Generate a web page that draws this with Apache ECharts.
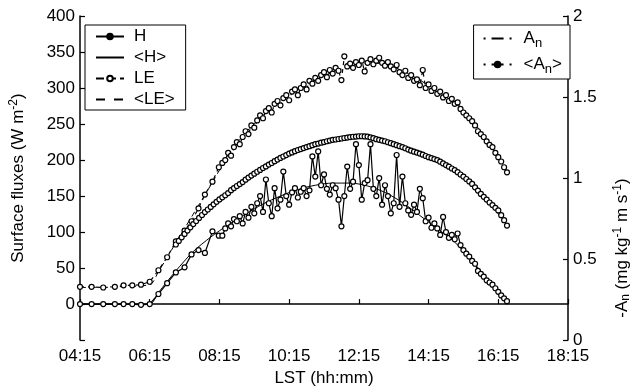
<!DOCTYPE html>
<html><head><meta charset="utf-8">
<script src="https://cdn.jsdelivr.net/npm/echarts@6/dist/echarts.min.js"></script>
<style>html,body{margin:0;padding:0;background:#fff}#c{width:640px;height:392px}</style>
</head><body><div id="c"></div>
<script>
// ---------------- data ----------------
const xTickStart = '04:15';
const earlyTimes = ['04:15','04:35','04:55','05:15','05:30','05:45','06:00','06:15','06:30','06:45','07:00','07:15','07:27','07:39','07:50','08:03','08:14'];
const hEarly  = [0,0,0,0,0,0,-1,0,14,29,44,51,69,75,71,101,95];
const leEarly = [24,24,23,24,26,26,27,31,47,65,87,102,115,133,152,170,190];

const fiveMinTimes = [
'07:00','07:05','07:10','07:15','07:20','07:25','07:30','07:35','07:40','07:45','07:50','07:55',
'08:00','08:05','08:10','08:15','08:20','08:25','08:30','08:35','08:40','08:45','08:50','08:55',
'09:00','09:05','09:10','09:15','09:20','09:25','09:30','09:35','09:40','09:45','09:50','09:55',
'10:00','10:05','10:10','10:15','10:20','10:25','10:30','10:35','10:40','10:45','10:50','10:55',
'11:00','11:05','11:10','11:15','11:20','11:25','11:30','11:35','11:40','11:45','11:50','11:55',
'12:00','12:05','12:10','12:15','12:20','12:25','12:30','12:35','12:40','12:45','12:50','12:55',
'13:00','13:05','13:10','13:15','13:20','13:25','13:30','13:35','13:40','13:45','13:50','13:55',
'14:00','14:05','14:10','14:15','14:20','14:25','14:30','14:35','14:40','14:45','14:50','14:55',
'15:00','15:05','15:10','15:15','15:20','15:25','15:30','15:35','15:40','15:45','15:50','15:55',
'16:00','16:05','16:10','16:15','16:20','16:25','16:30'];
const denseTimes = fiveMinTimes.slice(fiveMinTimes.indexOf('08:20'));

const hDense = [95,105,112,108,118,115,122,112,
128,120,135,126,140,150,128,173,140,122,161,133,
145,184,150,138,155,161,148,156,161,150,158,205,
177,212,165,180,160,152,165,161,145,108,150,191,
160,170,222,193,145,168,172,222,160,150,175,138,
165,150,126,140,207,135,177,140,130,124,138,128,
160,147,115,120,106,112,105,96,121,100,92,96,
90,98,82,75,70,66,60,56,46,42,38,33,
30,27,22,17,12,8,4];
const leDense = [196,200,210,206,218,225,222,232,
240,236,248,245,255,262,258,268,272,266,278,282,
276,286,290,283,295,298,290,300,305,298,310,306,
314,310,318,322,315,325,320,328,324,311,344,330,
334,328,336,332,338,323,335,340,333,338,342,335,
331,336,330,326,332,322,318,324,314,318,310,312,
304,325,300,305,296,300,292,295,287,290,282,285,
278,280,271,266,262,258,254,248,240,236,232,226,
221,218,210,204,198,190,183];

const hMeanTimes = ['04:15','05:15','06:15','06:30','07:00','07:30','08:00','08:30','09:00','09:30','10:00','10:30','11:00','11:30','12:00','12:30','13:00','13:30','14:00','14:30','15:00','15:30','16:00','16:30'];
const hMean  = [0,0,0,16,46,73,93,110,125,139,150,159,165,168,168,164,155,141,123,105,86,60,31,4];
const leMean = [23,24,27,45,85,125,165,206,238,262,281,297,311,322,330,335,333,324,311,296,279,255,222,184];

const anMean = [0.590,0.612,0.634,0.655,0.676,0.696,0.716,0.735,0.754,0.772,0.790,0.806,
0.822,0.838,0.853,0.868,0.881,0.894,0.907,0.925,0.938,0.951,0.963,0.975,
0.990,1.003,1.015,1.027,1.039,1.050,1.062,1.072,1.083,1.093,1.104,1.114,
1.124,1.133,1.142,1.151,1.158,1.166,1.173,1.179,1.185,1.191,1.197,1.203,
1.209,1.213,1.218,1.222,1.227,1.231,1.236,1.238,1.241,1.244,1.247,1.250,
1.253,1.255,1.256,1.258,1.258,1.257,1.256,1.251,1.246,1.240,1.236,1.231,
1.227,1.221,1.215,1.209,1.203,1.197,1.191,1.184,1.176,1.169,1.163,1.157,
1.151,1.144,1.136,1.129,1.123,1.117,1.111,1.101,1.090,1.080,1.070,1.059,
1.049,1.036,1.022,1.009,0.994,0.979,0.964,0.943,0.923,0.902,0.884,0.867,
0.849,0.833,0.816,0.800,0.771,0.740,0.707];
const anTimes = ['07:00','07:30','08:00','08:30','09:00','09:30','10:00','10:30','11:00','11:30','12:00','12:30','13:00','13:30','14:00','14:30','15:00','15:30','16:00','16:30'];
const anVal = [0.590,0.716,0.822,0.907,0.990,1.062,1.124,1.173,1.209,1.236,1.253,1.256,1.227,1.191,1.151,1.111,1.049,0.964,0.849,0.707];

const leftTicks = [-50, 400, 50];
const rightTicks = [0, 2, 0.5];

// ---------------- helpers ----------------
const toMin = s => { const p = s.split(':'); return (+p[0])*60 + (+p[1]); };
const T0 = toMin(xTickStart);
const fmt = m => { const t = m + T0; const h = Math.floor(t/60), mm = t%60; return (h<10?'0':'')+h+':'+(mm<10?'0':'')+mm; };
const pair = (times, vals) => times.map((t,i) => [toMin(t)-T0, vals[i]]);

const FONT = 'Liberation Sans, Arial, Helvetica, sans-serif';
const axisLine = {show:true, lineStyle:{color:'#000', width:1.5}};
const tick = {show:true, inside:true, length:5, lineStyle:{color:'#000', width:1.2}};
const lbl = {color:'#000', fontSize:17, fontFamily:FONT};
const openCircle = {color:'#fff', borderColor:'#000', borderWidth:1.2};
const hidden = {opacity:0};

const chart = echarts.init(document.getElementById('c'), null, {renderer:'canvas'});
chart.setOption({
  animation:false,
  backgroundColor:'#fff',
  color:['#000'],
  grid:{left:76, right:62, top:16, bottom:50, containLabel:false},
  xAxis:{type:'value', min:0, max:840, interval:120,
    name:'LST (hh:mm)', nameLocation:'middle', nameGap:28,
    nameTextStyle:{color:'#000', fontSize:17, fontFamily:FONT},
    axisLine, axisTick:tick, splitLine:{show:false},
    axisLabel:Object.assign({margin:8, formatter:v=>fmt(v)}, lbl)},
  yAxis:[
    {type:'value', min:leftTicks[0], max:leftTicks[1], interval:leftTicks[2], position:'left',
     name:'Surface fluxes (W m{sup|-2})', nameLocation:'middle', nameGap:52, nameRotate:90,
     nameTextStyle:{color:'#000', fontSize:17, fontFamily:FONT,
       rich:{sup:{fontSize:12, fontFamily:FONT, color:'#000', verticalAlign:'top', padding:[0,0,8,0]}}},
     axisLine, axisTick:tick, splitLine:{show:false},
     axisLabel:Object.assign({margin:5, formatter:v=> v<0 ? '' : String(v)}, lbl)},
    {type:'value', min:rightTicks[0], max:rightTicks[1], interval:rightTicks[2], position:'right',
     name:'-A{sub|n} (mg kg{sup|-1} m s{sup|-1})', nameLocation:'middle', nameGap:44, nameRotate:90,
     nameTextStyle:{color:'#000', fontSize:17, fontFamily:FONT, padding:[0,140,0,0],
       rich:{sup:{fontSize:12, fontFamily:FONT, color:'#000', padding:[0,0,8,0]},
             sub:{fontSize:12, fontFamily:FONT, color:'#000', padding:[8,0,0,0]}}},
     axisLine, axisTick:tick, splitLine:{show:false},
     axisLabel:Object.assign({margin:5}, lbl)}
  ],
  legend:[
    {orient:'vertical', left:85, top:25, itemWidth:28, itemHeight:7, itemGap:4,
     padding:[3,11,2,10], borderColor:'#000', borderWidth:1, backgroundColor:'#fff',
     textStyle:{color:'#000', fontSize:17, fontFamily:FONT, padding:[0,0,0,5]},
     data:[{name:'H', itemStyle:{color:'#000', borderColor:'#000'}},
           {name:'<H>', itemStyle:hidden},
           {name:'LE', lineStyle:{type:[8,4]}},
           {name:'<LE>', itemStyle:hidden, lineStyle:{type:[9,9]}}]},
    {orient:'vertical', right:70, top:25, itemWidth:28, itemHeight:7, itemGap:6,
     padding:[5,8,3,9], borderColor:'#000', borderWidth:1, backgroundColor:'#fff',
     formatter: n => n === 'A_n' ? 'A{sub|n}' : '<A{sub|n}>',
     textStyle:{color:'#000', fontSize:17, fontFamily:FONT, padding:[0,0,0,7],
       rich:{sub:{fontSize:13, fontFamily:FONT, color:'#000', padding:[10,0,0,0]}}},
     data:[{name:'A_n', itemStyle:hidden, lineStyle:{type:[2,6,12,6]}},
           {name:'<A_n>', itemStyle:{color:'#000', borderColor:'#000'}, lineStyle:{type:[2,6,12,6]}}]}
  ],
  series:[
    {name:'<H>', type:'line', data:pair(hMeanTimes,hMean), smooth:0.3, symbol:'none',
     lineStyle:{color:'#000', width:1}, z:3},
    {name:'H', type:'line', data:pair(earlyTimes,hEarly).concat(pair(denseTimes,hDense)),
     symbol:'circle', symbolSize:5, itemStyle:openCircle,
     lineStyle:{color:'#000', width:1.2}, z:4},
    {name:'<LE>', type:'line', data:pair(hMeanTimes,leMean), smooth:0.3, symbol:'none',
     lineStyle:{color:'#000', width:1, type:[6,4]}, z:3},
    {name:'LE', type:'line', data:pair(earlyTimes,leEarly).concat(pair(denseTimes,leDense)),
     symbol:'circle', symbolSize:5, itemStyle:openCircle,
     lineStyle:{color:'#000', width:1.2, type:[4,4]}, z:4},
    {name:'A_n', type:'line', yAxisIndex:1, data:pair(anTimes,anVal), smooth:0.3, symbol:'none',
     lineStyle:{color:'#000', width:1, type:[1,3,8,3]}, z:3},
    {name:'<A_n>', type:'line', yAxisIndex:1, data:pair(fiveMinTimes,anMean),
     symbol:'circle', symbolSize:5, itemStyle:openCircle,
     lineStyle:{color:'#000', width:1, type:[1,3,8,3]}, z:4}
  ]
});
</script></body></html>
